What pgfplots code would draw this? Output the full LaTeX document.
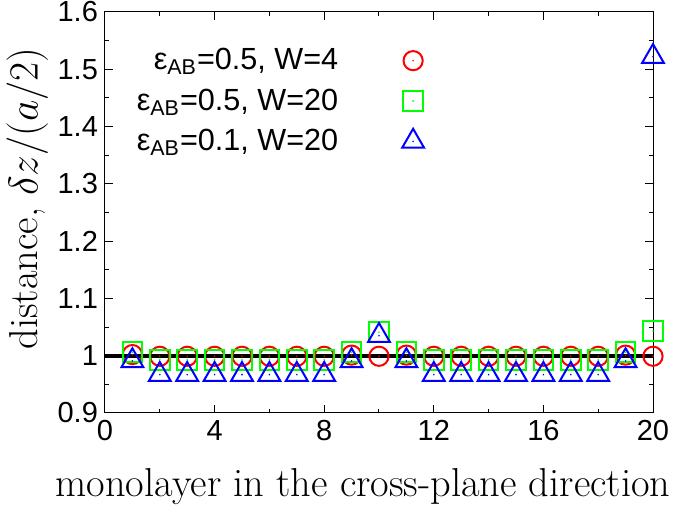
\documentclass[border=0pt]{standalone}
\usepackage{fontspec}
\usepackage{pgfplots}
\pgfplotsset{compat=1.18}
\newfontfamily\hel{Liberation Sans}
\pgfdeclareplotmark{odot}{%
  \pgfpathcircle{\pgfpointorigin}{\pgfplotmarksize}\pgfusepathqstroke
  \pgfpathcircle{\pgfpointorigin}{0.45pt}\pgfusepathqfill}
\pgfdeclareplotmark{sqdot}{%
  \pgfpathrectangle{\pgfpoint{-\pgfplotmarksize}{-\pgfplotmarksize}}{\pgfpoint{2\pgfplotmarksize}{2\pgfplotmarksize}}\pgfusepathqstroke
  \pgfpathcircle{\pgfpointorigin}{0.45pt}\pgfusepathqfill}
\pgfdeclareplotmark{tridot}{%
  \pgfpathmoveto{\pgfpoint{0pt}{\pgfplotmarksize}}%
  \pgfpathlineto{\pgfpoint{-0.866\pgfplotmarksize}{-0.5\pgfplotmarksize}}%
  \pgfpathlineto{\pgfpoint{0.866\pgfplotmarksize}{-0.5\pgfplotmarksize}}%
  \pgfpathclose\pgfusepathqstroke
  \pgfpathcircle{\pgfpointorigin}{0.45pt}\pgfusepathqfill}
\pgfplotstableread{
x red green blue
1 1.002 1.006 0.991
2 0.999 0.993 0.967
3 0.999 0.993 0.967
4 0.999 0.993 0.967
5 0.999 0.993 0.967
6 0.999 0.993 0.967
7 0.999 0.993 0.967
8 0.999 0.993 0.967
9 1.001 1.006 0.991
10 0.999 1.041 1.035
11 1.001 1.006 0.991
12 0.999 0.993 0.967
13 0.999 0.993 0.967
14 0.999 0.993 0.967
15 0.999 0.993 0.967
16 0.999 0.993 0.967
17 0.999 0.993 0.967
18 0.999 0.993 0.967
19 1.001 1.006 0.991
20 0.999 1.043 1.522
}\data
\begin{document}
\begin{tikzpicture}
\begin{axis}[
  scale only axis,
  width=274pt, height=200.5pt,
  xmin=0, xmax=20, ymin=0.9, ymax=1.6,
  xtick={0,4,...,20}, minor x tick num=1,
  ytick={0.9,1,1.1,1.2,1.3,1.4,1.5,1.6}, minor y tick num=1,
  tick align=inside,
  major tick length=4pt, minor tick length=2pt,
  every tick/.style={black, line width=0.5pt},
  axis line style={line width=0.5pt},
  /pgf/number format/assume math mode=true,
  tick label style={font=\hel\fontsize{14.5}{14.5}\selectfont},
  xlabel={monolayer in the cross-plane direction},
  ylabel={distance, $\delta z/(a/2)$},
  label style={font=\fontsize{20.2}{20.2}\selectfont},
  xlabel style={yshift=-7pt, xshift=-8pt},
  ylabel style={yshift=-2pt, xshift=7pt},
  legend plot pos=right,
  legend cell align=right,
  legend style={draw=none, fill=none, at={(axis cs:1.0,1.544)}, anchor=north west,
     font=\hel\fontsize{15.3}{15.3}\selectfont, row sep=4pt, column sep=30pt, inner sep=0pt},
]
\addplot[black, line width=2pt, forget plot] coordinates {(0,1) (20,1)};
\addplot[only marks, red, mark=odot, mark size=4.8pt, line width=1pt] table[x=x,y=red] {\data};
\addlegendentry{ε\textsubscript{AB}=0.5, W=4}
\addplot[only marks, green, mark=sqdot, mark size=4.9pt, line width=1pt] table[x=x,y=green] {\data};
\addlegendentry{ε\textsubscript{AB}=0.5, W=20}
\addplot[only marks, blue, mark=tridot, mark size=6.3pt, line width=1pt] table[x=x,y=blue] {\data};
\addlegendentry{ε\textsubscript{AB}=0.1, W=20}
\coordinate (O) at (rel axis cs:0,0);
\coordinate (T) at (rel axis cs:1,1);
\end{axis}
\pgfresetboundingbox
\path ([shift={(-52.5pt,-46pt)}]O) rectangle ([shift={(11pt,6pt)}]T);
\end{tikzpicture}
\end{document}
